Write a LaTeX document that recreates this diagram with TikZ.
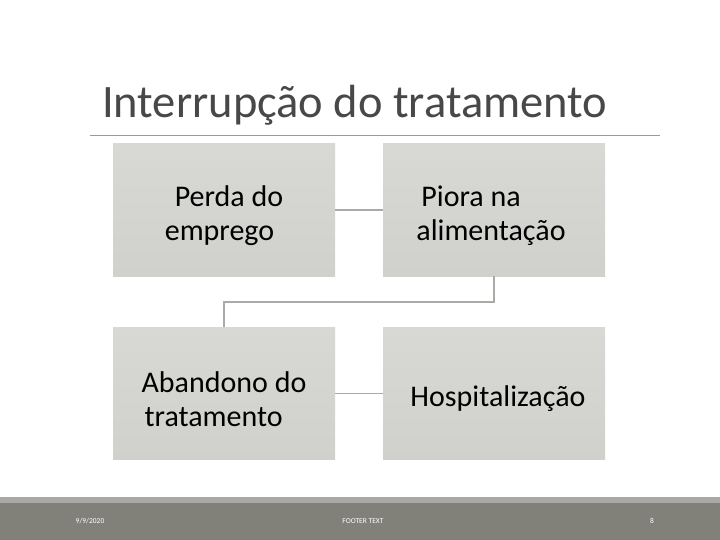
\documentclass[tikz,border=0pt]{standalone}
\usepackage{fontspec}
\setmainfont{Carlito}
\definecolor{boxtop}{RGB}{216,216,212}
\definecolor{boxbot}{RGB}{208,208,204}
\definecolor{conn}{RGB}{170,170,166}
\definecolor{footdark}{RGB}{129,129,122}
\definecolor{footlight}{RGB}{169,169,165}
\definecolor{titlecol}{RGB}{72,72,72}
\tikzset{
  x=1bp, y=-1bp,
  stepbox/.style={draw=none, top color=boxtop, bottom color=boxbot, minimum width=222bp, minimum height=132bp, inner sep=0pt},
  boxtext/.style={align=left, inner sep=0pt, yshift=-5.5bp, font=\fontsize{30bp}{34bp}\selectfont},
  link/.style={draw=conn, line width=1.5bp},
  foot/.style={text=white, font=\fontsize{7.5bp}{8bp}\selectfont}
}
\begin{document}
\begin{tikzpicture}
\useasboundingbox (0,0) rectangle (720,540);
\fill[white] (0,0) rectangle (720,540);
% title
\node[anchor=base west, inner sep=0pt, text=titlecol, font=\fontsize{46.5bp}{50bp}\selectfont] (title) at (102,118) {Interrupção do tratamento};
\coordinate (rl) at (90,136);
\coordinate (rr) at (660,136);
\draw[draw=gray!80, line width=1bp] (rl) -- (rr);
% boxes
\node[stepbox, label={[boxtext]center:\hspace*{10bp}Perda do\\emprego}] (b1) at (224,210) {};
\node[stepbox, label={[boxtext]center:\hspace*{5bp}Piora na\\alimentação\hspace*{6bp}}] (b2) at (494,210) {};
\node[stepbox, label={[boxtext]center:Abandono do\\\hspace*{3bp}tratamento}] (b3) at (224,393.5) {};
\node[stepbox, label={[boxtext]center:\hspace*{8bp}Hospitalização}] (b4) at (494,393.5) {};
% connectors
\draw[link] (b1.east) -- (b2.west);
\draw[link] (b2.south) -- ++(0,26) -| (b3.north);
\draw[link] (b3.east) -- (b4.west);
% footer
\fill[footlight] (0,497) rectangle (720,503);
\fill[footdark] (0,503) rectangle (720,540);
\node[foot] (date) at (90,521) {9/9/2020};
\node[foot] (ft) at (363,521) {FOOTER TEXT};
\node[foot] (pg) at (652,521) {8};
\end{tikzpicture}
\end{document}
